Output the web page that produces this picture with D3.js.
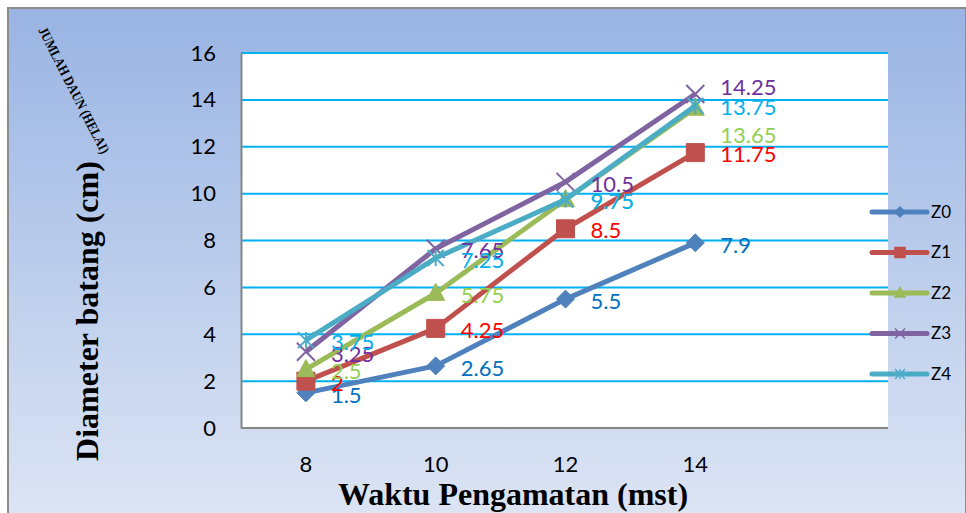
<!DOCTYPE html>
<html lang="en">
<head>
  <meta charset="UTF-8">
  <meta name="viewport" content="width=device-width, initial-scale=1.0">
  <script src="https://d3js.org/d3.v7.min.js"></script>
  <title>Diameter batang</title>
  <style>
    body { margin: 0; background: #fff; }
    svg { display: block; }
  </style>
</head>
<body>
  <script>
    // chart values
    const categories = ["8", "10", "12", "14", ""]
    const yTicks = [0, 2, 4, 6, 8, 10, 12, 14, 16]
    const seriesNames = ["Z0", "Z1", "Z2", "Z3", "Z4"]
    const z0 = [1.5, 2.65, 5.5, 7.9]
    const z1 = [2, 4.25, 8.5, 11.75]
    const z2 = [2.5, 5.75, 9.75, 13.65]
    const z3 = [3.25, 7.65, 10.5, 14.25]
    const z4 = [3.75, 7.25, 9.75, 13.75]

    window.addEventListener("DOMContentLoaded", ()=>{

      /*=======================*/
      /* Setting Up SVG Canvas */
      /*=======================*/
      const width = 966
      const height = 513
      const plot = {left: 241, right: 888, top: 53, bottom: 428}

      const svg = d3.select("body").append("svg")
                    .attr("width", width)
                    .attr("height", height)

      const grad = svg.append("defs").append("linearGradient")
                      .attr("id", "bg").attr("x1", 0).attr("y1", 0).attr("x2", 0).attr("y2", 1)
      grad.append("stop").attr("offset", "0%").attr("stop-color", "#99b4e3")
      grad.append("stop").attr("offset", "100%").attr("stop-color", "#dde5f4")

      svg.append("rect")
        .attr("x", 8).attr("y", 8)
        .attr("width", width - 8).attr("height", height)
        .attr("fill", "url(#bg)")
        .attr("stroke", "#8c8c8c")
        .attr("stroke-width", 2)

      svg.append("rect")
        .attr("x", plot.left).attr("y", plot.top)
        .attr("width", plot.right - plot.left).attr("height", plot.bottom - plot.top)
        .attr("fill", "#fff")

      /*========================================*/
      /* Setting Vertical and Horizontal Scales */
      /*========================================*/
      const xScale = d3.scaleBand()
                      .domain(categories)
                      .range([plot.left, plot.right + 2])
      const xPos = (i)=> xScale(categories[i]) + xScale.bandwidth() / 2

      const yScale = d3.scaleLinear()
                      .domain([0, 16])
                      .range([plot.bottom, plot.top])

      /*===============*/
      /* Grid and Axis */
      /*===============*/
      svg.append("g")
        .selectAll("line")
        .data(yTicks.filter(d => d > 0))
        .enter()
        .append("line")
        .attr("x1", plot.left).attr("x2", plot.right)
        .attr("y1", d => yScale(d)).attr("y2", d => yScale(d))
        .attr("stroke", "#00b0f0")
        .attr("stroke-width", 2)

      const yAxis = d3.axisLeft(yScale).tickValues(yTicks).tickSize(0).tickPadding(25)
      const gy = svg.append("g")
        .attr("transform", `translate(${plot.left}, 0)`)
        .call(yAxis)
      gy.select(".domain").attr("stroke", "#868686").attr("stroke-width", 2)
      gy.selectAll("text")
        .attr("font-family", "Lato, 'Open Sans', sans-serif")
        .attr("font-size", 22)
        .attr("fill", "#000")

      const xAxis = d3.axisBottom(xScale).tickSize(0).tickPadding(28)
      const gx = svg.append("g")
        .attr("transform", `translate(0, ${plot.bottom})`)
        .call(xAxis)
      gx.select(".domain").attr("stroke", "#868686").attr("stroke-width", 2)
        .attr("d", `M${plot.left},0H${plot.right}`)
      gx.selectAll("text")
        .attr("font-family", "Lato, 'Open Sans', sans-serif")
        .attr("font-size", 22)
        .attr("fill", "#000")

      /*==============*/
      /* Axis Titles */
      /*==============*/
      svg.append("text")
        .attr("transform", "translate(98, 311) rotate(-90)")
        .attr("text-anchor", "middle")
        .attr("font-family", "'Liberation Serif', 'Times New Roman', serif")
        .attr("font-weight", "bold")
        .attr("font-size", 32)
        .text("Diameter batang (cm)")

      svg.append("text")
        .attr("x", 513).attr("y", 505)
        .attr("text-anchor", "middle")
        .attr("font-family", "'Liberation Serif', 'Times New Roman', serif")
        .attr("font-weight", "bold")
        .attr("font-size", 32)
        .text("Waktu Pengamatan (mst)")

      svg.append("text")
        .attr("transform", "translate(38, 30) rotate(63)")
        .attr("font-family", "'Liberation Serif', 'Times New Roman', serif")
        .attr("font-weight", "bold")
        .attr("font-size", 14)
        .attr("textLength", 140)
        .attr("lengthAdjust", "spacingAndGlyphs")
        .text("JUMLAH DAUN (HELAI)")

      /*=====================*/
      /* Series and Markers */
      /*=====================*/
      const markerPath = {
        diamond: (s)=> `M0,${-s}L${s},0L0,${s}L${-s},0Z`,
        square: (s)=> `M${-s},${-s}H${s}V${s}H${-s}Z`,
        triangle: (s)=> `M0,${-s * 1.1}L${s},${s * 0.8}L${-s},${s * 0.8}Z`,
        x: (s)=> `M${-s},${-s}L${s},${s}M${s},${-s}L${-s},${s}`,
        star: (s)=> `M${-s},${-s}L${s},${s}M${s},${-s}L${-s},${s}M0,${-s}V${s}`
      }

      const series = [
        {name: seriesNames[0], values: z0, color: "#4f81bd", label: "#0070c0", marker: "diamond", size: 9, nudge: [0, 0, 0, 0]},
        {name: seriesNames[1], values: z1, color: "#c0504d", label: "#ff0000", marker: "square", size: 9, nudge: [0, 0, 0, 0]},
        {name: seriesNames[2], values: z2, color: "#9bbb59", label: "#92d050", marker: "triangle", size: 9, nudge: [0, 0, 0, 25]},
        {name: seriesNames[3], values: z3, color: "#8064a2", label: "#7030a0", marker: "x", size: 9, nudge: [0, 0, 0, -9]},
        {name: seriesNames[4], values: z4, color: "#4bacc6", label: "#00b0f0", marker: "star", size: 8, nudge: [0, 0, 0, 0]}
      ]

      const line = d3.line()
                    .x((d, i)=> xPos(i))
                    .y(d => yScale(d))

      series.forEach(s => {
        const g = svg.append("g")
        g.append("path")
          .attr("d", line(s.values))
          .attr("fill", "none")
          .attr("stroke", s.color)
          .attr("stroke-width", 5)
          .attr("stroke-linejoin", "round")

        const filled = ["diamond", "square", "triangle"].includes(s.marker)
        g.selectAll("path.m")
          .data(s.values)
          .enter()
          .append("path")
          .attr("class", "m")
          .attr("transform", (d, i)=> `translate(${xPos(i)}, ${yScale(d)})`)
          .attr("d", markerPath[s.marker](s.size))
          .attr("fill", filled ? s.color : "none")
          .attr("stroke", s.color)
          .attr("stroke-width", filled ? 1 : 2)
      })

      /*=============*/
      /* Data Labels */
      /*=============*/
      series.forEach(s => {
        svg.append("g")
          .selectAll("text")
          .data(s.values)
          .enter()
          .append("text")
          .attr("x", (d, i)=> xPos(i) + 25)
          .attr("y", (d, i)=> yScale(d) + 2 + s.nudge[i])
          .attr("dy", "0.35em")
          .attr("font-family", "Lato, 'Open Sans', sans-serif")
          .attr("font-size", 22)
          .attr("fill", s.label)
          .text(d => d)
      })

      /*========*/
      /* Legend */
      /*========*/
      const legend = svg.append("g")
                        .selectAll("g")
                        .data(series)
                        .enter()
                        .append("g")
                        .attr("transform", (d, i)=> `translate(872, ${212 + i * 40.5})`)

      legend.append("line")
        .attr("x1", 0).attr("x2", 55)
        .attr("stroke", d => d.color)
        .attr("stroke-width", 5)
        .attr("stroke-linecap", "round")

      legend.append("path")
        .attr("transform", "translate(28, 0)")
        .attr("d", d => markerPath[d.marker](5))
        .attr("fill", d => ["diamond", "square", "triangle"].includes(d.marker) ? d.color : "none")
        .attr("stroke", d => d.color)
        .attr("stroke-width", 1.5)

      legend.append("text")
        .attr("x", 59).attr("dy", "0.35em")
        .attr("font-family", "Lato, 'Open Sans', sans-serif")
        .attr("font-size", 17)
        .attr("fill", "#000")
        .text(d => d.name)

    })
  </script>
</body>
</html>
